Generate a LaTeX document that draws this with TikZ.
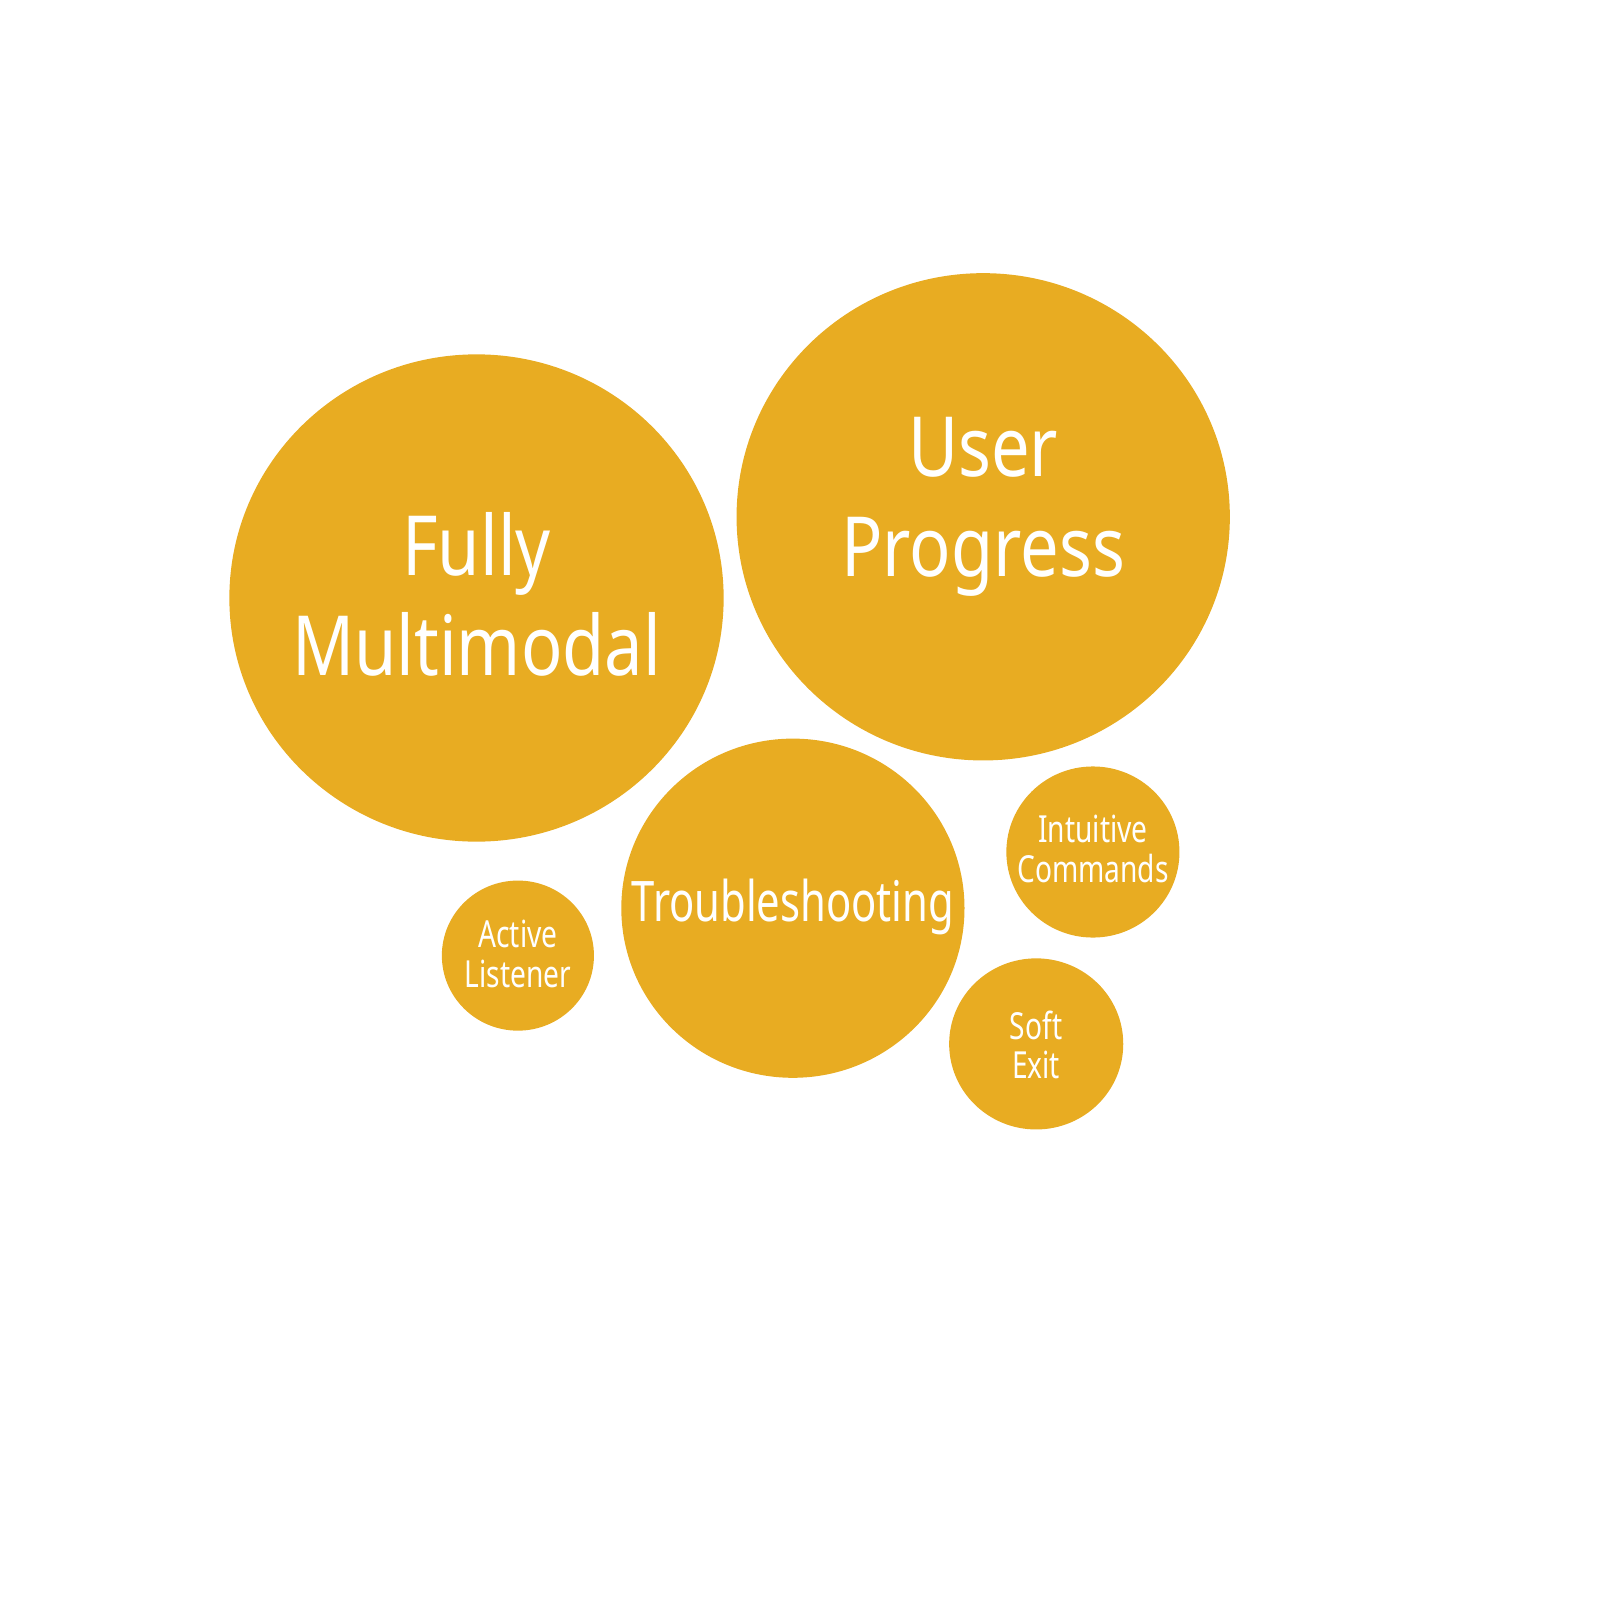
\documentclass[tikz,border=0pt]{standalone}
\usepackage{fontspec}
\setmainfont[FakeStretch=0.79]{Noto Sans}
\newfontfamily\bigface[FakeStretch=0.827]{Noto Sans}
\newfontfamily\midface[FakeStretch=0.747]{Noto Sans}
\newfontfamily\smallface[FakeStretch=0.755]{Noto Sans}
\usetikzlibrary{shapes.geometric}
\definecolor{bubblefill}{HTML}{E8AC22}
\tikzset{
  bubble/.style={ellipse, fill=bubblefill, draw=none, inner sep=0pt},
  bigtext/.style={text=white, align=center, font=\bigface\fontsize{23.6pt}{28.45pt}\selectfont, inner sep=0pt},
  midtext/.style={text=white, align=center, font=\midface\fontsize{15.9pt}{19pt}\selectfont, inner sep=0pt},
  smalltext/.style={text=white, align=center, font=\smallface\fontsize{10.6pt}{11.3pt}\selectfont, inner sep=0pt},
}
\begin{document}
\begin{tikzpicture}[x=0.01cm, y=-0.01cm]
  \useasboundingbox (0,0) rectangle (1600,1600);
  % bubbles, sized as width x height
  \node[bubble, minimum width=4.94cm, minimum height=4.87cm] (fm) at (476.5,598) {};
  \node[bubble, minimum width=4.93cm, minimum height=4.87cm] (up) at (983.2,516.8) {};
  \node[bubble, minimum width=3.43cm, minimum height=3.39cm] (ts) at (792.9,908.2) {};
  \node[bubble, minimum width=1.52cm, minimum height=1.50cm] (al) at (517.9,955.6) {};
  \node[bubble, minimum width=1.73cm, minimum height=1.71cm] (ic) at (1092.9,852) {};
  \node[bubble, minimum width=1.74cm, minimum height=1.71cm] (se) at (1036.2,1043.9) {};
  % labels
  \node[bigtext] (fmt) at (476.5,594) {Fully\\Multimodal};
  \node[bigtext] (upt) at (983.2,507) {User\\Progress};
  \node[midtext, anchor=base] (tst) at (793,921.4) {Troubleshooting};
  \node[smalltext] (alt) at (518,954) {Active\\Listener};
  \node[smalltext] (ict) at (1093,849) {Intuitive\\Commands};
  \node[smalltext] (set) at (1036,1045) {Soft\\Exit};
\end{tikzpicture}
\end{document}
